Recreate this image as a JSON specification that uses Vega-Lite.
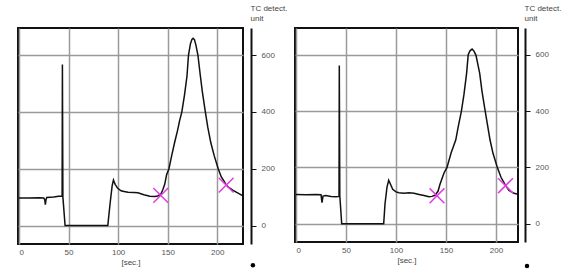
{
  "$schema": "https://vega.github.io/schema/vega-lite/v6.json",
  "padding": {"left": 17, "top": 3, "right": 0, "bottom": 0},
  "spacing": 6,
  "background": "white",
  "config": {
    "view": {"stroke": "#111", "strokeWidth": 2},
    "font": "Liberation Sans",
    "axis": {"labelFont": "Liberation Sans", "labelFontSize": 8, "labelColor": "#555", "titleFont": "Liberation Sans", "titleFontSize": 8, "titleFontWeight": "normal", "titleColor": "#444", "gridColor": "#9a9a9a", "gridWidth": 1.5}
  },
  "datasets": {
    "left": [
      {"t": 0, "v": 97}, {"t": 10, "v": 97}, {"t": 20, "v": 98}, {"t": 25, "v": 97}, {"t": 26, "v": 90}, {"t": 26.6, "v": 73}, {"t": 27.3, "v": 92}, {"t": 28, "v": 99}, {"t": 35, "v": 100}, {"t": 40, "v": 103}, {"t": 43.5, "v": 104}, {"t": 43.8, "v": 567}, {"t": 44.3, "v": 100}, {"t": 46.5, "v": 0}, {"t": 89.6, "v": 0}, {"t": 92, "v": 80}, {"t": 94, "v": 140}, {"t": 95.3, "v": 160}, {"t": 97, "v": 145}, {"t": 99.6, "v": 131}, {"t": 103, "v": 122}, {"t": 106, "v": 120}, {"t": 110, "v": 117}, {"t": 116, "v": 116}, {"t": 120, "v": 115}, {"t": 126, "v": 108}, {"t": 132, "v": 103}, {"t": 137, "v": 102}, {"t": 140, "v": 104}, {"t": 143, "v": 110}, {"t": 145, "v": 125}, {"t": 147, "v": 145}, {"t": 149, "v": 180}, {"t": 151.3, "v": 200}, {"t": 154, "v": 245}, {"t": 157, "v": 292}, {"t": 160, "v": 335}, {"t": 162, "v": 368}, {"t": 164.3, "v": 400}, {"t": 167, "v": 460}, {"t": 169.5, "v": 526}, {"t": 171, "v": 600}, {"t": 173, "v": 640}, {"t": 174.5, "v": 655}, {"t": 175.6, "v": 659}, {"t": 177, "v": 654}, {"t": 178.5, "v": 635}, {"t": 180.5, "v": 600}, {"t": 183, "v": 526}, {"t": 185, "v": 470}, {"t": 188, "v": 400}, {"t": 190.5, "v": 345}, {"t": 193.5, "v": 292}, {"t": 197, "v": 245}, {"t": 201, "v": 200}, {"t": 204, "v": 172}, {"t": 207, "v": 155}, {"t": 209, "v": 143}, {"t": 212, "v": 133}, {"t": 216, "v": 124}, {"t": 221, "v": 114}, {"t": 226, "v": 104}
    ],
    "leftMarks": [{"t": 143, "v": 106}, {"t": 209, "v": 142}],
    "right": [
      {"t": 0, "v": 104}, {"t": 10, "v": 103}, {"t": 20, "v": 104}, {"t": 25, "v": 103}, {"t": 26, "v": 75}, {"t": 27, "v": 98}, {"t": 30, "v": 100}, {"t": 35, "v": 97}, {"t": 40, "v": 96}, {"t": 43, "v": 97}, {"t": 43.3, "v": 562}, {"t": 43.8, "v": 100}, {"t": 45.7, "v": 0}, {"t": 87.7, "v": 0}, {"t": 89, "v": 70}, {"t": 91, "v": 130}, {"t": 92.7, "v": 154}, {"t": 94.5, "v": 140}, {"t": 96.7, "v": 122}, {"t": 100, "v": 113}, {"t": 103, "v": 110}, {"t": 108, "v": 108}, {"t": 113, "v": 110}, {"t": 118, "v": 108}, {"t": 123, "v": 104}, {"t": 128, "v": 100}, {"t": 133, "v": 96}, {"t": 136, "v": 97}, {"t": 139, "v": 101}, {"t": 142, "v": 115}, {"t": 144, "v": 140}, {"t": 148, "v": 180}, {"t": 151, "v": 200}, {"t": 155, "v": 250}, {"t": 159.8, "v": 298}, {"t": 162, "v": 340}, {"t": 165.4, "v": 400}, {"t": 168, "v": 460}, {"t": 170.6, "v": 534}, {"t": 172.2, "v": 600}, {"t": 174, "v": 614}, {"t": 176.1, "v": 620}, {"t": 178, "v": 613}, {"t": 180, "v": 598}, {"t": 183.7, "v": 534}, {"t": 186, "v": 470}, {"t": 189.2, "v": 400}, {"t": 194, "v": 298}, {"t": 197, "v": 250}, {"t": 201.3, "v": 200}, {"t": 205, "v": 165}, {"t": 209.8, "v": 134}, {"t": 213, "v": 118}, {"t": 218, "v": 108}, {"t": 223, "v": 104}
    ],
    "rightMarks": [{"t": 141, "v": 99}, {"t": 209.5, "v": 135}],
    "leftDot": [{"t": 236, "v": -140}],
    "rightDot": [{"t": 231, "v": -150}]
  },
  "hconcat": [
    {
      "width": 225,
      "height": 216,
      "layer": [
        {
          "data": {"name": "left"},
          "mark": {"type": "line", "color": "#111", "strokeWidth": 1.5, "clip": true},
          "encoding": {
            "x": {"field": "t", "type": "quantitative", "scale": {"domain": [-1, 226], "nice": false, "zero": false},
              "axis": {"title": "[sec.]", "values": [0, 50, 100, 150, 200], "grid": true, "domain": false, "ticks": false, "labelPadding": 4, "titlePadding": 2}},
            "y": {"field": "v", "type": "quantitative", "scale": {"domain": [-65, 695], "nice": false, "zero": false},
              "axis": {"orient": "right", "offset": 8, "values": [0, 200, 400, 600], "grid": true, "domainColor": "#111", "domainWidth": 2, "tickColor": "#111", "tickWidth": 1, "tickSize": 5, "labelPadding": 5,
                "title": ["TC detect.", "unit"], "titleAngle": 0, "titleAlign": "left", "titleBaseline": "bottom", "titleX": -1, "titleY": -16, "titleLineHeight": 10}}
          }
        },
        {
          "data": {"name": "leftMarks"},
          "mark": {"type": "point", "shape": "M-1,-1L1,1M-1,1L1,-1", "stroke": "#e23be2", "strokeWidth": 1.5, "size": 220, "filled": false, "opacity": 1},
          "encoding": {"x": {"field": "t", "type": "quantitative"}, "y": {"field": "v", "type": "quantitative"}}
        },
        {
          "data": {"name": "leftDot"},
          "mark": {"type": "point", "filled": true, "color": "#000", "size": 20, "opacity": 1},
          "encoding": {"x": {"field": "t", "type": "quantitative"}, "y": {"field": "v", "type": "quantitative"}}
        }
      ]
    },
    {
      "width": 223,
      "height": 214,
      "layer": [
        {
          "data": {"name": "right"},
          "mark": {"type": "line", "color": "#111", "strokeWidth": 1.5, "clip": true},
          "encoding": {
            "x": {"field": "t", "type": "quantitative", "scale": {"domain": [-1, 222], "nice": false, "zero": false},
              "axis": {"title": "[sec.]", "values": [0, 50, 100, 150, 200], "grid": true, "domain": false, "ticks": false, "labelPadding": 4, "titlePadding": 2}},
            "y": {"field": "v", "type": "quantitative", "scale": {"domain": [-65, 695], "nice": false, "zero": false},
              "axis": {"orient": "right", "offset": 7, "values": [0, 200, 400, 600], "grid": true, "domainColor": "#111", "domainWidth": 2, "tickColor": "#111", "tickWidth": 1, "tickSize": 5, "labelPadding": 5,
                "title": ["TC detect.", "unit"], "titleAngle": 0, "titleAlign": "left", "titleBaseline": "bottom", "titleX": -1, "titleY": -16, "titleLineHeight": 10}}
          }
        },
        {
          "data": {"name": "rightMarks"},
          "mark": {"type": "point", "shape": "M-1,-1L1,1M-1,1L1,-1", "stroke": "#e23be2", "strokeWidth": 1.5, "size": 220, "filled": false, "opacity": 1},
          "encoding": {"x": {"field": "t", "type": "quantitative"}, "y": {"field": "v", "type": "quantitative"}}
        },
        {
          "data": {"name": "rightDot"},
          "mark": {"type": "point", "filled": true, "color": "#000", "size": 20, "opacity": 1},
          "encoding": {"x": {"field": "t", "type": "quantitative"}, "y": {"field": "v", "type": "quantitative"}}
        }
      ]
    }
  ]
}
